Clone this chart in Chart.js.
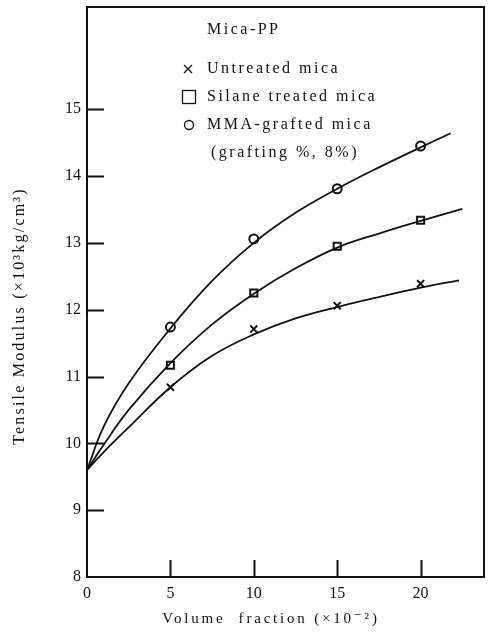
<!DOCTYPE html>
<html>
<head>
<meta charset="utf-8">
<script src="https://cdn.jsdelivr.net/npm/chart.js@4.4.1/dist/chart.umd.min.js"></script>
<style>
  body { margin: 0; background: #fff; }
  #caja { width: 491px; height: 632px; }
</style>
</head>
<body>
<div id="caja"><canvas id="grafico"></canvas></div>
<script>
// medidos (puntos)
const xPuntos = [5, 10, 15, 20];
const noTratada = [10.84, 11.71, 12.06, 12.39];
const silano = [11.17, 12.25, 12.95, 13.34];
const mma = [11.74, 13.06, 13.81, 14.45];

// curvas dibujadas a mano en el original
const xCurvaNoTratada = [0, 1, 2.5, 5, 7.5, 10, 12.5, 15, 17.5, 20, 22.3];
const yCurvaNoTratada = [9.6, 9.87, 10.24, 10.84, 11.31, 11.63, 11.87, 12.04, 12.19, 12.33, 12.44];
const xCurvaSilano = [0, 1, 2.5, 5, 7.5, 10, 12.5, 15, 17.5, 20, 22.5];
const yCurvaSilano = [9.6, 9.98, 10.5, 11.2, 11.78, 12.24, 12.62, 12.93, 13.14, 13.33, 13.51];
const xCurvaMma = [0, 1, 2.5, 5, 7.5, 10, 12.5, 15, 17.5, 20, 21.8];
const yCurvaMma = [9.6, 10.25, 10.9, 11.72, 12.43, 13.0, 13.45, 13.81, 14.13, 14.43, 14.64];

const ticksY = [9, 10, 11, 12, 13, 14, 15];
const ticksX = [5, 10, 15, 20];

const leyenda = ['Untreated mica', 'Silane treated mica', 'MMA-grafted mica', '(grafting %, 8%)'];
const tituloLeyenda = 'Mica-PP';
const tituloX = 'Volume  fraction (\u00d710\u207b\u00b2)';
const tituloY = 'Tensile Modulus (\u00d710\u00b3kg/cm\u00b3)';

const fuente = "'Liberation Serif', 'DejaVu Serif', serif";

function pares(xs, ys) {
    return xs.map(function (x, i) { return { x: x, y: ys[i] }; });
}

function curva(xs, ys) {
    return {
        type: 'line',
        data: pares(xs, ys),
        borderColor: '#111',
        borderWidth: 1.8,
        pointRadius: 0,
        tension: 0.4,
        fill: false
    };
}

function marcas(ys, estilo, radio) {
    return {
        type: 'scatter',
        data: pares(xPuntos, ys),
        showLine: false,
        pointStyle: estilo,
        pointRadius: radio,
        pointBorderColor: '#111',
        pointBackgroundColor: 'rgba(0,0,0,0)',
        pointBorderWidth: 2
    };
}

// marco, ticks hacia adentro y textos
const extras = {
    id: 'extras',
    afterDraw: function (chart) {
        const ctx = chart.ctx;
        const area = chart.chartArea;
        const sx = chart.scales.x;
        const sy = chart.scales.y;
        ctx.save();
        ctx.strokeStyle = '#111';
        ctx.lineWidth = 2;
        ctx.strokeRect(area.left, area.top, area.right - area.left, area.bottom - area.top);

        ticksY.forEach(function (v) {
            const py = Math.round(sy.getPixelForValue(v)) + 0.5;
            ctx.beginPath();
            ctx.moveTo(area.left, py);
            ctx.lineTo(area.left + 17, py);
            ctx.stroke();
        });
        ticksX.forEach(function (v) {
            const px = Math.round(sx.getPixelForValue(v)) + 0.5;
            ctx.beginPath();
            ctx.moveTo(px, area.bottom);
            ctx.lineTo(px, area.bottom - 17);
            ctx.stroke();
        });

        ctx.fillStyle = '#111';
        ctx.textBaseline = 'middle';
        ctx.textAlign = 'left';
        ctx.font = '16px ' + fuente;
        ctx.letterSpacing = '2.5px';
        ctx.fillText(tituloLeyenda, 207, 30);

        const filas = [69, 97, 125, 153];
        ctx.fillText(leyenda[0], 207, filas[0]);
        ctx.fillText(leyenda[1], 207, filas[1]);
        ctx.fillText(leyenda[2], 207, filas[2]);
        ctx.fillText(leyenda[3], 211, filas[3]);

        // simbolos de la leyenda
        ctx.lineWidth = 1.3;
        ctx.beginPath();
        ctx.moveTo(184, filas[0] - 4); ctx.lineTo(192, filas[0] + 4);
        ctx.moveTo(192, filas[0] - 4); ctx.lineTo(184, filas[0] + 4);
        ctx.stroke();
        ctx.strokeRect(182.5, filas[1] - 6.5, 13, 13);
        ctx.beginPath();
        ctx.arc(189, filas[2], 4.5, 0, Math.PI * 2);
        ctx.stroke();

        // titulos de ejes
        ctx.font = '15px ' + fuente;
        ctx.textAlign = 'center';
        ctx.letterSpacing = '2.8px';
        ctx.fillText(tituloX, 271, 619);

        ctx.font = '16px ' + fuente;
        ctx.translate(20, 316);
        ctx.rotate(-Math.PI / 2);
        ctx.letterSpacing = '2.2px';
        ctx.fillText(tituloY, 0, 0);
        ctx.restore();
    }
};

const ctx = document.getElementById('grafico').getContext('2d');
const grafico = new Chart(ctx, {
    data: {
        datasets: [
            curva(xCurvaNoTratada, yCurvaNoTratada),
            curva(xCurvaSilano, yCurvaSilano),
            curva(xCurvaMma, yCurvaMma),
            marcas(noTratada, 'crossRot', 5),
            marcas(silano, 'rect', 5),
            marcas(mma, 'circle', 4.5)
        ]
    },
    options: {
        responsive: true,
        maintainAspectRatio: false,
        animation: false,
        layout: { padding: { top: 6, right: 5, left: 0, bottom: 0 } },
        plugins: {
            legend: { display: false },
            tooltip: { enabled: false }
        },
        scales: {
            x: {
                type: 'linear',
                min: 0,
                max: 23.8,
                grid: { display: false, drawTicks: false },
                border: { display: false },
                afterFit: function (s) { s.height = 55; s.paddingLeft = 0; s.paddingRight = 0; },
                ticks: {
                    stepSize: 5,
                    padding: 7,
                    color: '#111',
                    font: { family: fuente, size: 16 },
                    callback: function (v) { return v % 5 === 0 ? v : ''; }
                }
            },
            y: {
                type: 'linear',
                min: 8,
                max: 16.53,
                grid: { display: false, drawTicks: false },
                border: { display: false },
                afterFit: function (s) { s.width = 87; s.paddingTop = 0; s.paddingBottom = 0; },
                ticks: {
                    stepSize: 1,
                    padding: 6,
                    color: '#111',
                    font: { family: fuente, size: 16 },
                    callback: function (v) { return (v <= 15 && v % 1 === 0) ? v : ''; }
                }
            }
        }
    },
    plugins: [extras]
});
</script>
</body>
</html>
